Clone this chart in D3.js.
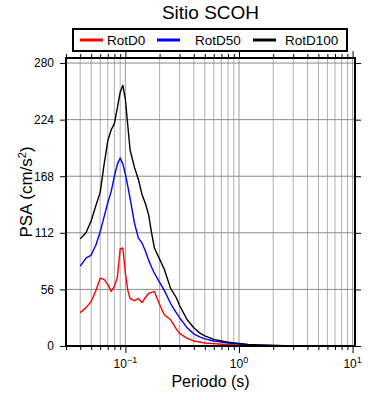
<!DOCTYPE html>
<meta charset="utf-8">

<!-- Load d3.js -->
<script src="https://d3js.org/d3.v7.min.js"></script>

<style>
  body {
    margin: 0;
    background: #fff;
  }
  text {
    font-family: "Liberation Sans", Arial, Helvetica, sans-serif;
  }
</style>

<div id="mygraphic"></div>

<script>

// periods (s) shared by the three spectra
var periods = [0.04, 0.045, 0.05, 0.055, 0.06, 0.065, 0.07, 0.075, 0.08, 0.085,
  0.09, 0.095, 0.1, 0.105, 0.11, 0.12, 0.13, 0.14, 0.15, 0.16,
  0.17, 0.18, 0.2, 0.22, 0.25, 0.28, 0.3, 0.35, 0.4, 0.45,
  0.5, 0.6, 0.7, 0.8, 1.0, 1.2, 1.5, 2.0, 2.5, 3.0,
  4.0, 5.0, 6.0, 7.5, 10.0]

var rotD0 = [33, 38, 44, 55, 67, 66, 61, 54, 59, 68,
  96, 97, 72, 55, 47, 45, 47, 43, 48, 52,
  53, 54, 41, 31, 26, 17, 12.5, 7.5, 5, 4,
  3, 2.3, 1.7, 1.3, 0.8, 0.5, 0.3, 0.2, 0.1, 0.1,
  0.05, 0.05, 0.05, 0.05, 0.05]

var rotD50 = [79, 87, 90, 100, 113, 128, 142, 153, 168, 180,
  186, 180, 170, 158, 146, 122, 107, 102, 94, 85,
  78, 72, 63, 55, 42, 33, 28, 18, 12, 9,
  7, 5, 3.8, 3, 2, 1.4, 0.9, 0.5, 0.3, 0.2,
  0.1, 0.05, 0.05, 0.05, 0.05]

var rotD100 = [106, 112, 124, 139, 152, 180, 203, 214, 220, 236,
  251, 258, 244, 218, 194, 177, 165, 150, 141, 130,
  112, 97, 86, 76, 57, 48, 40, 26, 18, 13,
  10, 6.5, 5, 3.8, 2.5, 1.6, 1.1, 0.6, 0.4, 0.3,
  0.15, 0.1, 0.1, 0.1, 0.1]

var seriesNames = ["RotD0", "RotD50", "RotD100"]
var seriesColors = ["#ff0000", "#0000ff", "#000000"]

var yTicks = [0, 56, 112, 168, 224, 280]
var xDecades = [0.1, 1, 10]
var xDecadeExp = ["\u22121", "0", "1"]

// set the dimensions and margins of the graph
var width = 390
var height = 400
var margin = {top: 58, right: 35, bottom: 54, left: 66}

var svg = d3.select("#mygraphic")
  .append("svg")
  .attr("width", width)
  .attr("height", height)

var x = d3.scaleLog()
  .domain([0.03, 10.5])
  .range([margin.left, width - margin.right])

var y = d3.scaleLinear()
  .domain([0, 285])
  .range([height - margin.bottom, margin.top])

// 1..9 of every decade inside the domain
var gridX = []
;[0.01, 0.1, 1, 10].forEach(function (d) {
  for (var k = 1; k < 10; k++) {
    var v = +(d * k).toPrecision(3)
    if (v >= x.domain()[0] && v <= x.domain()[1]) gridX.push(v)
  }
})

function isDecade(v) {
  return Math.abs(Math.log10(v) - Math.round(Math.log10(v))) < 1e-6
}

// grid
svg.append("g")
  .selectAll("line")
  .data(gridX)
  .enter()
  .append("line")
  .attr("x1", function (d) { return x(d) })
  .attr("x2", function (d) { return x(d) })
  .attr("y1", y.range()[1])
  .attr("y2", y.range()[0])
  .attr("stroke", function (d) { return isDecade(d) ? "#9a9a9a" : "#b0b0b0" })
  .attr("stroke-width", 1)

svg.append("g")
  .selectAll("line")
  .data(yTicks.slice(1))
  .enter()
  .append("line")
  .attr("x1", x.range()[0])
  .attr("x2", x.range()[1])
  .attr("y1", function (d) { return y(d) })
  .attr("y2", function (d) { return y(d) })
  .attr("stroke", "#8a8a8a")
  .attr("stroke-width", 1)

// the three spectra
var series = [rotD0, rotD50, rotD100]

var line = d3.line()
  .x(function (d) { return x(d[0]) })
  .y(function (d) { return y(d[1]) })

svg.append("g")
  .selectAll("path")
  .data(series)
  .enter()
  .append("path")
  .attr("fill", "none")
  .attr("stroke", function (d, i) { return seriesColors[i] })
  .attr("stroke-width", 1.4)
  .attr("stroke-linejoin", "round")
  .attr("d", function (vals) {
    return line(periods.map(function (p, j) { return [p, vals[j]] }))
  })

// axes
var axisB = svg.append("g")
  .attr("transform", "translate(0," + y.range()[0] + ")")
  .call(d3.axisBottom(x).tickValues(gridX).tickSize(4).tickFormat(""))

var axisT = svg.append("g")
  .attr("transform", "translate(0," + y.range()[1] + ")")
  .call(d3.axisTop(x).tickValues(gridX).tickSize(4).tickFormat(""))

axisB.selectAll(".tick line").filter(function (d) { return isDecade(d) }).attr("y2", 7)
axisT.selectAll(".tick line").filter(function (d) { return isDecade(d) }).attr("y2", -7)

var axisL = svg.append("g")
  .attr("transform", "translate(" + x.range()[0] + ",0)")
  .call(d3.axisLeft(y).tickValues(yTicks).tickSize(6).tickPadding(6))

var axisR = svg.append("g")
  .attr("transform", "translate(" + x.range()[1] + ",0)")
  .call(d3.axisRight(y).tickValues(yTicks).tickSize(6).tickFormat(""))

;[axisB, axisT, axisL, axisR].forEach(function (g) {
  g.select(".domain").remove()
  g.selectAll(".tick line").attr("stroke", "#000")
})

axisL.selectAll(".tick text")
  .style("font-size", "12px")
  .attr("fill", "#000")
  .attr("font-family", "Liberation Sans, Arial, sans-serif")

// decade labels 10^n
var xlab = svg.append("g")
  .selectAll("text")
  .data(xDecades)
  .enter()
  .append("text")
  .attr("x", function (d) { return x(d) })
  .attr("y", y.range()[0] + 22)
  .attr("text-anchor", "middle")
  .style("font-size", "12px")

xlab.append("tspan").text("10")
xlab.append("tspan")
  .attr("dy", -5)
  .style("font-size", "9px")
  .text(function (d, i) { return xDecadeExp[i] })

// frame
svg.append("rect")
  .attr("x", x.range()[0])
  .attr("y", y.range()[1])
  .attr("width", x.range()[1] - x.range()[0])
  .attr("height", y.range()[0] - y.range()[1])
  .attr("fill", "none")
  .attr("stroke", "#000")
  .attr("stroke-width", 2)

// titles
svg.append("text")
  .attr("x", (x.range()[0] + x.range()[1]) / 2)
  .attr("y", 19)
  .attr("text-anchor", "middle")
  .style("font-size", "19px")
  .text("Sitio SCOH")

svg.append("text")
  .attr("x", (x.range()[0] + x.range()[1]) / 2)
  .attr("y", 387)
  .attr("text-anchor", "middle")
  .style("font-size", "16px")
  .text("Periodo (s)")

var ylab = svg.append("text")
  .attr("transform", "translate(32,192) rotate(-90)")
  .attr("text-anchor", "middle")
  .style("font-size", "17px")

ylab.append("tspan").text("PSA (cm/s")
ylab.append("tspan").attr("dy", -6).style("font-size", "11px").text("2")
ylab.append("tspan").attr("dy", 6).text(")")

// legend
var legend = svg.append("g")

legend.append("rect")
  .attr("x", 73)
  .attr("y", 29)
  .attr("width", 274)
  .attr("height", 22)
  .attr("fill", "#fff")
  .attr("stroke", "#000")
  .attr("stroke-width", 2)

var legendLineX = [80, 157, 253]
var legendTextX = [107, 195, 285]

seriesNames.forEach(function (name, i) {
  legend.append("line")
    .attr("x1", legendLineX[i])
    .attr("x2", legendLineX[i] + 23)
    .attr("y1", 40)
    .attr("y2", 40)
    .attr("stroke", seriesColors[i])
    .attr("stroke-width", 3)

  legend.append("text")
    .attr("x", legendTextX[i])
    .attr("y", 45)
    .style("font-size", "13.5px")
    .text(name)
})

</script>
